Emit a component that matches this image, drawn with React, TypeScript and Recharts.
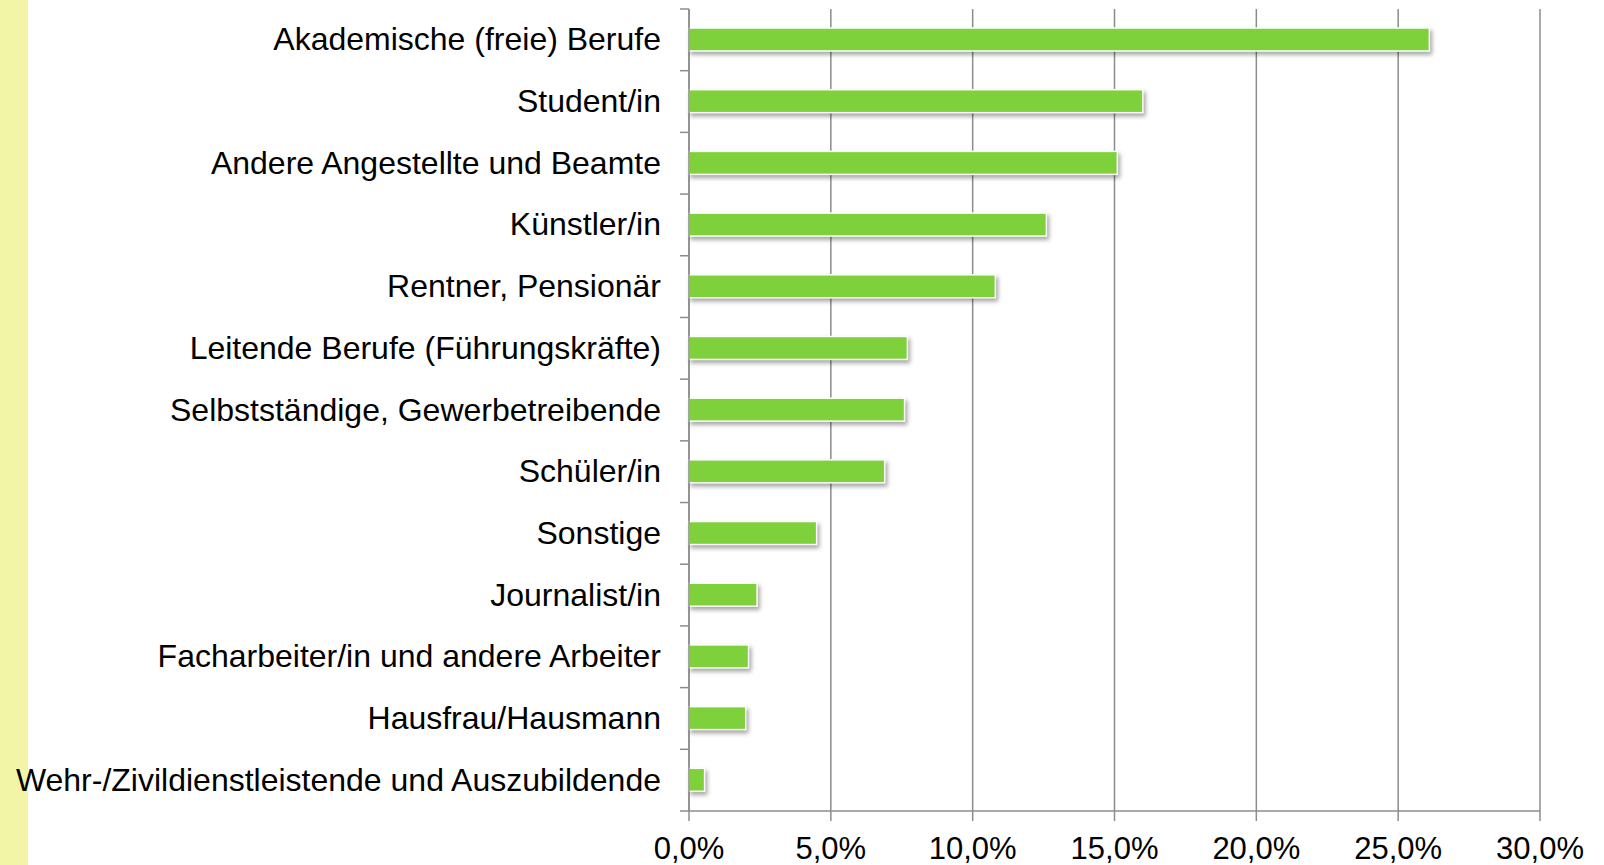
import { BarChart, Bar, XAxis, YAxis, CartesianGrid } from 'recharts'

const categories = [
  'Akademische (freie) Berufe',
  'Student/in',
  'Andere Angestellte und Beamte',
  'Künstler/in',
  'Rentner, Pensionär',
  'Leitende Berufe (Führungskräfte)',
  'Selbstständige, Gewerbetreibende',
  'Schüler/in',
  'Sonstige',
  'Journalist/in',
  'Facharbeiter/in und andere Arbeiter',
  'Hausfrau/Hausmann',
  'Wehr-/Zivildienstleistende und Auszubildende',
]
const shares = [26.1, 16.0, 15.1, 12.6, 10.8, 7.7, 7.6, 6.9, 4.5, 2.4, 2.1, 2.0, 0.55]
const xTicks = [0, 5, 10, 15, 20, 25, 30]

const data = categories.map((name, i) => ({ name, value: shares[i] }))

const FONT = '"Liberation Sans", Arial, Helvetica, sans-serif'
const GRID = '#8c8c8c'
const TOP = 9
const PLOT_H = 802
const BAND = PLOT_H / categories.length

const fmt = (v: number) => v.toFixed(1).replace('.', ',') + '%'

function CategoryTick(props: any) {
  const { x, y, payload, index } = props
  const last = index === categories.length - 1
  return (
    <g>
      <text x={x} y={y} dy="0.33em" textAnchor="end" fontSize={32} fontFamily={FONT} fill="#000">
        {payload.value}
      </text>
      <line x1={x + 19} x2={x + 28} y1={y - BAND / 2} y2={y - BAND / 2} stroke={GRID} strokeWidth={1.5} />
      {last && (
        <line x1={x + 19} x2={x + 28} y1={y + BAND / 2} y2={y + BAND / 2} stroke={GRID} strokeWidth={1.5} />
      )}
    </g>
  )
}

function ShadowBar(props: any) {
  const { x, y, width, height } = props
  if (!width || width <= 0) return null
  return (
    <rect
      x={x}
      y={y}
      width={width}
      height={height}
      fill="#7fd13b"
      stroke="#ffffff"
      strokeWidth={1.5}
      style={{ filter: 'drop-shadow(2px 3px 2px rgba(0,0,0,0.35))' }}
    />
  )
}

export default function App() {
  return (
    <div style={{ position: 'fixed', top: 0, left: 0, width: 1604, height: 865, background: '#fff', overflow: 'hidden' }}>
      <div style={{ position: 'absolute', top: 0, left: 0, width: 28, height: 865, background: '#f2f5a6' }} />
      <div style={{ position: 'absolute', top: 0, left: 0 }}>
        <BarChart
          width={1604}
          height={865}
          data={data}
          layout="vertical"
          margin={{ top: TOP, right: 64, bottom: 0, left: 0 }}
          barSize={23}
        >
          <CartesianGrid horizontal={false} vertical stroke={GRID} strokeWidth={1.5} />
          <XAxis
            type="number"
            domain={[0, 30]}
            ticks={xTicks}
            tickFormatter={fmt}
            interval={0}
            height={54}
            tickSize={10}
            tickMargin={16}
            axisLine={{ stroke: GRID, strokeWidth: 1.5 }}
            tickLine={{ stroke: GRID, strokeWidth: 1.5 }}
            tick={{ fontSize: 31, fontFamily: FONT, fill: '#000' }}
          />
          <YAxis
            type="category"
            dataKey="name"
            width={689}
            interval={0}
            tickSize={0}
            tickMargin={28}
            axisLine={{ stroke: GRID, strokeWidth: 1.5 }}
            tickLine={false}
            tick={<CategoryTick />}
          />
          <Bar dataKey="value" shape={<ShadowBar />} isAnimationActive={false} />
        </BarChart>
      </div>
    </div>
  )
}
